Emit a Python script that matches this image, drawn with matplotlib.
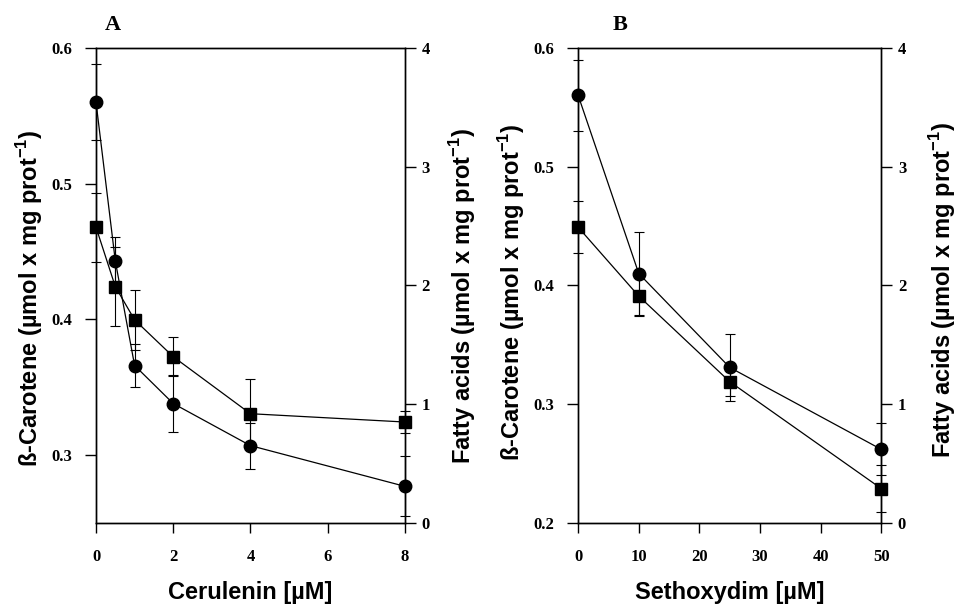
import matplotlib
matplotlib.use('Agg')
import matplotlib.pyplot as plt
from matplotlib.font_manager import FontProperties

plt.rcParams['mathtext.fontset'] = 'custom'
plt.rcParams['mathtext.rm'] = 'Liberation Sans:bold'
plt.rcParams['mathtext.bf'] = 'Liberation Sans:bold'

# Panel A: cerulenin
cer_x = [0, 0.5, 1, 2, 4, 8]
cer_carot = [0.560, 0.443, 0.366, 0.338, 0.307, 0.277]
cer_carot_err = [0.028, 0.018, 0.016, 0.021, 0.017, 0.022]
cer_fa = [2.49, 1.99, 1.71, 1.40, 0.92, 0.85]
cer_fa_err = [0.29, 0.33, 0.25, 0.165, 0.29, 0.095]

# Panel B: sethoxydim
seth_x = [0, 10, 25, 50]
seth_carot = [0.560, 0.410, 0.331, 0.262]
seth_carot_err = [0.030, 0.035, 0.028, 0.022]
seth_fa = [2.49, 1.91, 1.19, 0.29]
seth_fa_err = [0.22, 0.17, 0.12, 0.195]

left_label = r'ß-Carotene (µmol x mg prot$^{-1}$)'
right_label = r'Fatty acids (µmol x mg prot$^{-1}$)'
tick_font = dict(family='Liberation Serif', weight='bold', size=12)
lab_font = dict(family='Liberation Sans', weight='bold', size=17)

fig = plt.figure(figsize=(9.62, 6.06), dpi=100)

def panel(rect, x, carot, carot_err, fa, fa_err, xlim, xticks, ylim, yticks,
          xlabel, letter, letter_x, lab_left, lab_right):
    ax = fig.add_axes(rect)
    ax2 = ax.twinx()
    ax.errorbar(x, carot, yerr=carot_err, fmt='o-', color='black', ms=9,
                lw=0.9, elinewidth=0.8, capsize=3.6, capthick=0.8, clip_on=False)
    ax2.errorbar(x, fa, yerr=fa_err, fmt='s-', color='black', ms=8,
                 lw=0.9, elinewidth=0.8, capsize=3.6, capthick=0.8, clip_on=False)
    ax.set_xlim(*xlim)
    ax.set_ylim(*ylim)
    ax2.set_ylim(0, 4)
    ax.set_xticks(xticks)
    ax.set_yticks(yticks)
    ax2.set_yticks([0, 1, 2, 3, 4])
    for a in (ax, ax2):
        for s in a.spines.values():
            s.set_linewidth(1.0)
    ax.tick_params(axis='y', direction='out', length=8, width=1, pad=9)
    ax.tick_params(axis='x', direction='out', length=7, width=1, pad=12)
    ax2.tick_params(axis='y', direction='out', length=8, width=1, pad=4)
    for lbl in ax.get_xticklabels() + ax.get_yticklabels() + ax2.get_yticklabels():
        lbl.set_fontproperties(FontProperties(**tick_font))
    ax.set_xlabel(xlabel, **lab_font)
    ax.xaxis.set_label_coords(0.5, -0.122)
    ax.set_ylabel(left_label, **lab_font)
    ax.yaxis.set_label_coords(*lab_left)
    ax2.set_ylabel(right_label, rotation=90, **lab_font)
    ax2.yaxis.set_label_coords(*lab_right)
    ax.text(letter_x, 1.048, letter, transform=ax.transAxes, ha='center', va='center',
            family='Liberation Serif', weight='bold', size=16)
    return ax, ax2

panel([0.0998, 0.137, 0.321, 0.784], cer_x, cer_carot, cer_carot_err, cer_fa, cer_fa_err,
      (0, 8), [0, 2, 4, 6, 8], (0.25, 0.6), [0.3, 0.4, 0.5, 0.6],
      'Cerulenin [µM]', 'A', 0.055, (-0.165, 0.474), (1.136, 0.478))
panel([0.601, 0.137, 0.315, 0.784], seth_x, seth_carot, seth_carot_err, seth_fa, seth_fa_err,
      (0, 50), [0, 10, 20, 30, 40, 50], (0.2, 0.6), [0.2, 0.3, 0.4, 0.5, 0.6],
      'Sethoxydim [µM]', 'B', 0.139, (-0.168, 0.486), (1.152, 0.49))

fig.savefig('out.png', dpi=100)
